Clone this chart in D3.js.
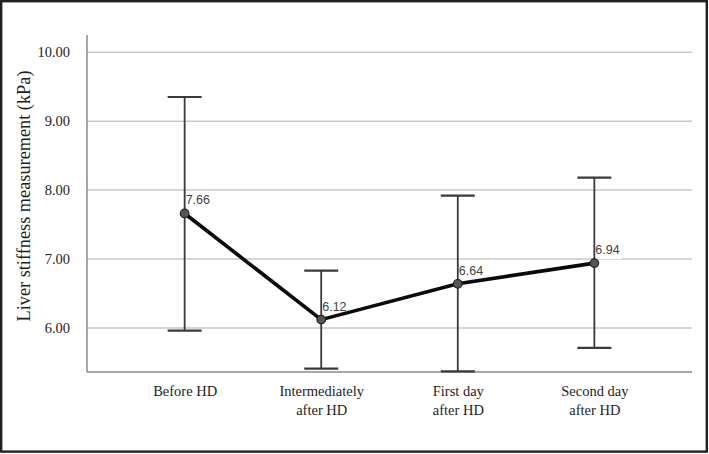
<!DOCTYPE html>
<html>
<head>
<meta charset="utf-8">
<script src="https://cdn.jsdelivr.net/npm/d3@7"></script>
<style>
html,body{margin:0;padding:0;background:#fff;}
svg{display:block;}
</style>
</head>
<body>
<svg id="chart" width="709" height="454"></svg>
<script>
const categories = [["Before HD"], ["Intermediately", "after HD"], ["First day", "after HD"], ["Second day", "after HD"]];
const means = [7.66, 6.12, 6.64, 6.94];
const upper = [9.35, 6.83, 7.92, 8.18];
const lower = [5.96, 5.41, 5.37, 5.71];
const yTicks = [6, 7, 8, 9, 10];
const yTitle = "Liver stiffness measurement (kPa)";

(function() {
const svg = d3.select("#chart");
const W = 709, H = 454;
const mLeft = 87, mRight = 692, mTop = 35, mBottom = 372;

svg.append("rect").attr("x", 1.2).attr("y", 1.2).attr("width", W - 3.4).attr("height", H - 3.6)
  .attr("fill", "#fff").attr("stroke", "#222").attr("stroke-width", 2.4);

const keys = categories.map((c, i) => i);
const x = d3.scalePoint().domain(keys).range([mLeft, mRight]).padding(0.715);
const y = d3.scaleLinear().domain([5.36, 10.25]).range([mBottom, mTop]);

const serif = "'Liberation Serif','Times New Roman',Times,serif";
const sans = "'Liberation Sans',Arial,Helvetica,sans-serif";
const txt = "#1e1e1e";

// gridlines
svg.append("g").selectAll("line").data(yTicks).join("line")
  .attr("x1", mLeft).attr("x2", mRight)
  .attr("y1", d => y(d)).attr("y2", d => y(d))
  .attr("stroke", "#c9c9c9").attr("stroke-width", 1.5);

// y axis labels
const yAxis = d3.axisLeft(y).tickValues(yTicks).tickFormat(d3.format(".2f")).tickSize(0).tickPadding(17);
const gy = svg.append("g").attr("transform", `translate(${mLeft},0)`).call(yAxis);
gy.select(".domain").remove();
gy.selectAll("text").attr("font-family", serif).attr("font-size", 14.5).attr("fill", txt);

// axis lines
svg.append("line").attr("x1", mLeft).attr("x2", mLeft).attr("y1", mTop).attr("y2", mBottom)
  .attr("stroke", "#8a8a8a").attr("stroke-width", 1.5);
svg.append("line").attr("x1", mLeft).attr("x2", mRight).attr("y1", mBottom).attr("y2", mBottom)
  .attr("stroke", "#8a8a8a").attr("stroke-width", 1.5);

// x axis labels
const xAxis = d3.axisBottom(x).tickSize(0).tickFormat(() => "");
const gx = svg.append("g").attr("transform", `translate(0,${mBottom})`).call(xAxis);
gx.select(".domain").remove();
gx.selectAll(".tick").each(function(d) {
  const t = d3.select(this).append("text")
    .attr("font-family", serif).attr("font-size", 14.5).attr("fill", txt)
    .attr("text-anchor", "middle");
  categories[d].forEach((line, j) => {
    t.append("tspan").attr("x", 0).attr("y", 24 + j * 19).text(line);
  });
});

// y title
svg.append("text")
  .attr("transform", `translate(30,196) rotate(-90)`)
  .attr("text-anchor", "middle")
  .attr("font-family", serif).attr("font-size", 18.3).attr("fill", txt)
  .text(yTitle);

const bgG = svg.append("g");
const ebG = svg.append("g").attr("stroke", "#3a3a3a").attr("stroke-width", 1.8);
const lblG = svg.append("g");

keys.forEach(i => {
  const cx = x(i);
  ebG.append("line").attr("x1", cx).attr("x2", cx).attr("y1", y(upper[i])).attr("y2", y(lower[i]));
  ebG.append("line").attr("x1", cx - 17).attr("x2", cx + 17).attr("y1", y(upper[i])).attr("y2", y(upper[i])).attr("stroke-width", 2.2);
  ebG.append("line").attr("x1", cx - 17).attr("x2", cx + 17).attr("y1", y(lower[i])).attr("y2", y(lower[i])).attr("stroke-width", 2.2);

  const t = lblG.append("text").attr("x", cx + 1).attr("y", y(means[i]) - 9)
    .attr("font-family", sans).attr("font-size", 12.5).attr("fill", "#444")
    .text(means[i].toFixed(2));
  const bb = t.node().getBBox();
  bgG.append("rect").attr("x", bb.x - 1).attr("y", bb.y + 1).attr("width", bb.width + 3).attr("height", bb.height + 1)
    .attr("fill", "#fff");
});

// mean line
const line = d3.line().x((d, i) => x(i)).y(d => y(d));
svg.append("path").datum(means).attr("d", line)
  .attr("fill", "none").attr("stroke", "#0a0a0a").attr("stroke-width", 3.6).attr("stroke-linejoin", "round");

svg.append("g").selectAll("circle").data(means).join("circle")
  .attr("cx", (d, i) => x(i)).attr("cy", d => y(d)).attr("r", 4.3)
  .attr("fill", "#555").attr("stroke", "#222").attr("stroke-width", 1.2);
})();
</script>
</body>
</html>
